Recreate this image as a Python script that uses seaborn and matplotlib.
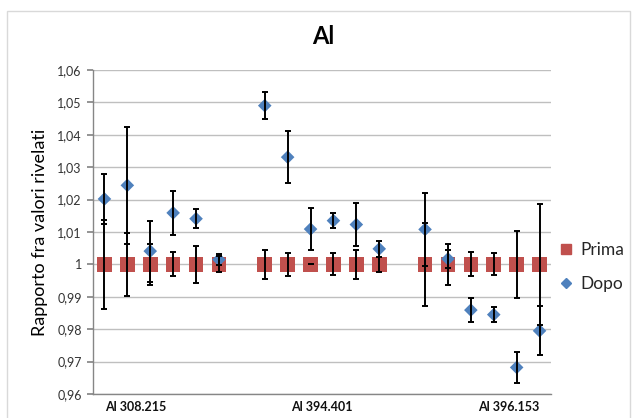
import numpy as np
import pandas as pd
import matplotlib
matplotlib.use("Agg")
import matplotlib.pyplot as plt
from matplotlib.ticker import FuncFormatter, MultipleLocator
from matplotlib.patches import Rectangle
from matplotlib.lines import Line2D
import seaborn as sns

nan = np.nan
# 20 category slots; empty slots separate the three emission lines
group_labels = ["Al 308.215", "Al 394.401", "Al 396.153"]
group_label_slots = [1.35, 9.5, 17.65]

prima = [1.0, 1.0, 1.0, 1.0, 1.0, 1.0, nan,
         1.0, 1.0, 1.0, 1.0, 1.0, 1.0, nan,
         1.0, 1.0, 1.0, 1.0, 1.0, 1.0]
prima_err = [0.0138, 0.0098, 0.0063, 0.0037, 0.0056, 0.0025, nan,
             0.0045, 0.0035, 0.0, 0.0034, 0.0045, 0.0022, nan,
             0.0128, 0.0064, 0.0037, 0.0034, 0.0104, 0.0186]
dopo = [1.0202, 1.0244, 1.0041, 1.0159, 1.0141, 1.0015, nan,
        1.0490, 1.0331, 1.0109, 1.0135, 1.0123, 1.0048, nan,
        1.0108, 1.0017, 0.9859, 0.9845, 0.9682, 0.9795]
dopo_err = [0.0076, 0.0180, 0.0094, 0.0069, 0.0030, 0.0017, nan,
            0.0041, 0.0080, 0.0066, 0.0024, 0.0067, 0.0024, nan,
            0.0112, 0.0027, 0.0036, 0.0023, 0.0048, 0.0076]

slots = np.arange(len(prima))
df = pd.concat([
    pd.DataFrame({"slot": slots, "val": prima, "err": prima_err, "serie": "Prima"}),
    pd.DataFrame({"slot": slots, "val": dopo, "err": dopo_err, "serie": "Dopo"}),
]).dropna()

sns.set_theme(style="white")
plt.rcParams["font.family"] = ["Lato", "DejaVu Sans"]

RED = "#C0504D"
BLUE = "#4F81BD"

fig = plt.figure(figsize=(6.36, 4.18), dpi=100)
fig.patch.set_facecolor("white")
fig.add_artist(Rectangle((7 / 636, -0.05), 623 / 636, 1 - 11 / 418 + 0.05,
                         transform=fig.transFigure, fill=False,
                         edgecolor="#D9D9D9", linewidth=1.0))
ax = fig.add_axes([93 / 636, 1 - 394 / 418, (551 - 93) / 636, (394 - 70) / 418])

sns.scatterplot(data=df, x="slot", y="val", hue="serie", style="serie",
                palette={"Prima": RED, "Dopo": BLUE},
                markers={"Prima": "s", "Dopo": "D"},
                hue_order=["Prima", "Dopo"], style_order=["Prima", "Dopo"],
                size="serie", sizes={"Prima": 110, "Dopo": 48},
                edgecolor="none", linewidth=0, ax=ax, zorder=3, legend=False)

for name in ["Prima", "Dopo"]:
    sub = df[df.serie == name]
    ax.errorbar(sub.slot, sub.val, yerr=sub.err, fmt="none", ecolor="black",
                elinewidth=1.4, capsize=2.2, capthick=1.4, zorder=4)

ax.set_xlim(-0.5, len(prima) - 0.5)
ax.set_ylim(0.96, 1.06)
ax.yaxis.set_major_locator(MultipleLocator(0.01))


def fmt(v, pos):
    s = f"{v:.2f}".rstrip("0").rstrip(".")
    return s.replace(".", ",")


ax.yaxis.set_major_formatter(FuncFormatter(fmt))
ax.grid(axis="y", color="#BFBFBF", linewidth=1.0)
ax.set_axisbelow(True)
for side in ["top", "right"]:
    ax.spines[side].set_visible(False)
for side in ["left", "bottom"]:
    ax.spines[side].set_color("#868686")
    ax.spines[side].set_linewidth(1.0)
ax.tick_params(axis="y", length=4, color="#868686", labelsize=9,
               labelcolor="#333333", pad=4, left=True)
ax.set_xticks(group_label_slots)
ax.set_xticklabels(group_labels, fontsize=9, fontweight="bold", ha="center",
                   color="#111111")
ax.tick_params(axis="x", length=0, pad=5)
ax.set_xlabel("")
ax.set_ylabel("Rapporto fra valori rivelati", fontsize=13, labelpad=7,
              color="black")

fig.text(0.508, 1 - 37 / 418, "Al", ha="center", va="center",
         fontsize=17, fontweight="bold", color="black")

handles = [Line2D([], [], marker="s", color=RED, linestyle="none", markersize=7.5),
           Line2D([], [], marker="D", color=BLUE, linestyle="none", markersize=5)]
fig.legend(handles, ["Prima", "Dopo"], loc="center left",
           bbox_to_anchor=(540 / 636, 1 - 267 / 418), frameon=False,
           fontsize=12.5, labelspacing=1.0, handletextpad=0.25, handlelength=1.2,
           labelcolor="#262626")

fig.savefig("out.png", dpi=100)
